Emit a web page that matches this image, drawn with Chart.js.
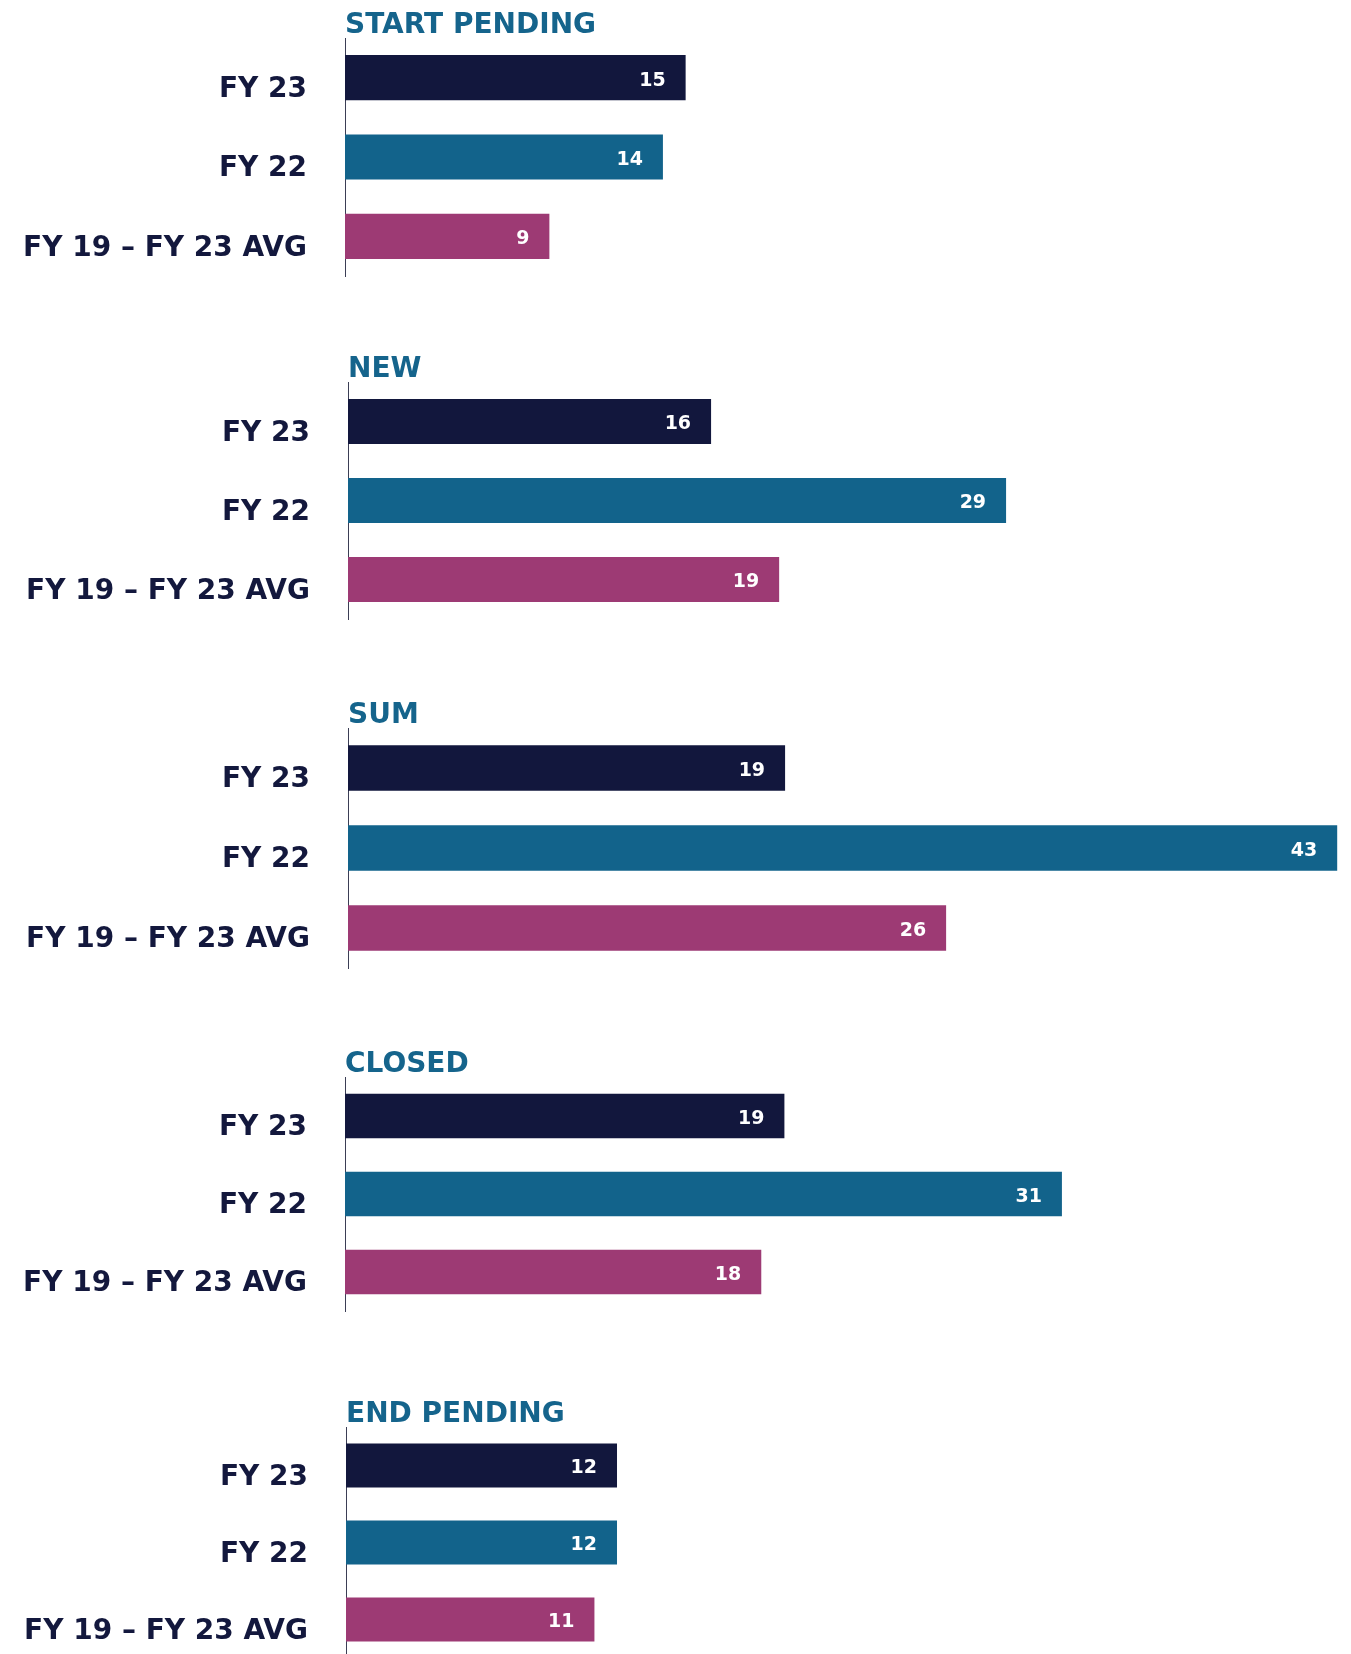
<!DOCTYPE html>
<html>
<head>
<meta charset="utf-8">
<script src="https://cdn.jsdelivr.net/npm/chart.js@4.4.0/dist/chart.umd.min.js"></script>
<style>
  html, body { margin: 0; padding: 0; background: #fff; overflow: hidden; }
  body { width: 1351px; height: 1654px; position: relative; }
  canvas { position: absolute; left: 0; }
</style>
</head>
<body>
<script>
var categories = ['FY 23', 'FY 22', 'FY 19 \u2013 FY 23 AVG'];
var panelTitles = ['START PENDING', 'NEW', 'SUM', 'CLOSED', 'END PENDING'];
var fy23Values = [15, 16, 19, 19, 12];
var fy22Values = [14, 29, 43, 31, 12];
var avgValues = [9, 19, 26, 18, 11];

var barColors = ['#12173d', '#12638b', '#9d3a74'];

// placement of each panel on the page
var axisLeft = [345, 348, 348, 345, 346];
var areaTop = [38, 382, 728, 1077, 1427];
var areaBottom = [276, 619, 968, 1311, 1658];
var axisMax = [44.3, 44.2, 43.6, 43.5, 44.5];
var padTop = 40, padBottom = 24;

// white value text inside the end of each bar
var valueLabels = {
    id: 'valueLabels',
    afterDatasetsDraw: function(chart) {
        var ctx = chart.ctx;
        var meta = chart.getDatasetMeta(0);
        var data = chart.data.datasets[0].data;
        ctx.save();
        ctx.font = 'bold 19px "DejaVu Sans"';
        ctx.fillStyle = '#ffffff';
        ctx.textAlign = 'right';
        ctx.textBaseline = 'middle';
        meta.data.forEach(function(bar, idx) {
            ctx.fillText(String(data[idx]), bar.x - 20, bar.y + 3);
        });
        ctx.restore();
    }
};

// panel heading sitting on top of the axis line
var panelHeading = {
    id: 'panelHeading',
    afterDraw: function(chart) {
        var ctx = chart.ctx;
        var area = chart.chartArea;
        ctx.save();
        ctx.font = 'bold 28px "DejaVu Sans"';
        ctx.fillStyle = '#15648c';
        ctx.textAlign = 'left';
        ctx.textBaseline = 'alphabetic';
        ctx.fillText(chart.options.plugins.panelHeading.text, area.left, area.top - 5);
        ctx.restore();
    }
};

panelTitles.forEach(function(title, i) {
    var canvas = document.createElement('canvas');
    var h = areaBottom[i] - areaTop[i] + padTop + padBottom;
    canvas.width = 1351;
    canvas.height = h;
    canvas.style.top = (areaTop[i] - padTop) + 'px';
    canvas.style.width = '1351px';
    canvas.style.height = h + 'px';
    document.body.appendChild(canvas);

    new Chart(canvas.getContext('2d'), {
        type: 'bar',
        data: {
            labels: categories,
            datasets: [{
                data: [fy23Values[i], fy22Values[i], avgValues[i]],
                backgroundColor: barColors,
                borderWidth: 0,
                categoryPercentage: 1,
                barPercentage: 0.57
            }]
        },
        options: {
            indexAxis: 'y',
            responsive: false,
            animation: false,
            devicePixelRatio: 1,
            layout: { padding: { top: padTop, bottom: padBottom, left: 0, right: 0 } },
            plugins: {
                legend: { display: false },
                tooltip: { enabled: false },
                panelHeading: { text: title }
            },
            scales: {
                x: {
                    display: false,
                    min: 0,
                    max: axisMax[i]
                },
                y: {
                    grid: { display: false, drawTicks: true, tickLength: 38 },
                    border: { display: true, color: '#3b3e55', width: 1 },
                    ticks: {
                        color: '#13183d',
                        font: { family: 'DejaVu Sans', size: 28, weight: 'bold' },
                        padding: 0,
                        labelOffset: 12
                    },
                    afterFit: function(scale) {
                        scale.width = axisLeft[i];
                    }
                }
            }
        },
        plugins: [valueLabels, panelHeading]
    });
});
</script>
</body>
</html>
